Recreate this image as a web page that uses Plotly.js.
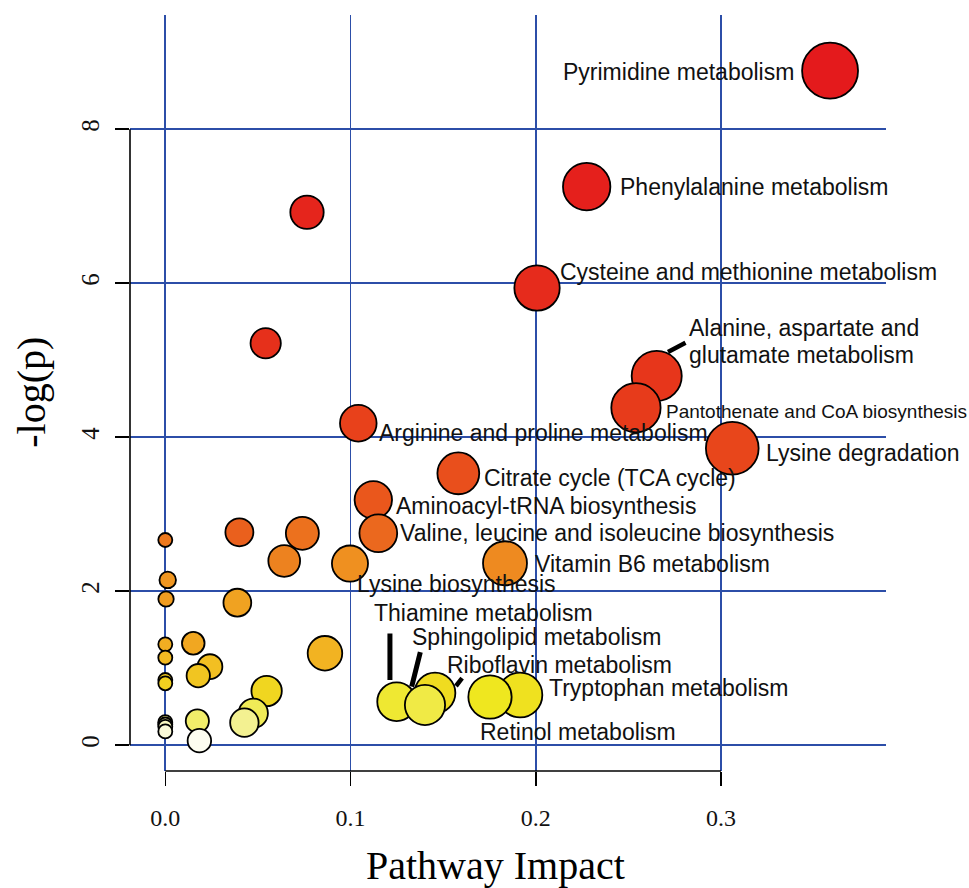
<!DOCTYPE html>
<html><head><meta charset="utf-8">
<script src="https://cdn.plot.ly/plotly-3.0.1.min.js"></script>
<style>html,body{margin:0;padding:0;background:#fff}#chart{width:969px;height:888px}</style>
</head><body><div id="chart"></div>
<script>
// ---- data ----
const pathways = [
  'Pyrimidine metabolism', 'Phenylalanine metabolism', '', 'Cysteine and methionine metabolism', '',
  'Alanine, aspartate and<br>glutamate metabolism', 'Pantothenate and CoA biosynthesis',
  'Arginine and proline metabolism', 'Lysine degradation', 'Citrate cycle (TCA cycle)',
  'Aminoacyl-tRNA biosynthesis', '', 'Valine, leucine and isoleucine biosynthesis', '', '', '',
  'Vitamin B6 metabolism', 'Lysine biosynthesis', '', '', '', '', '', '', '', '', '', '', '', '',
  'Riboflavin metabolism', 'Tryptophan metabolism', 'Retinol metabolism', 'Thiamine metabolism',
  'Sphingolipid metabolism', '', '', '', '', '', '', '', ''
];
const impact = [
  0.3589, 0.2275, 0.0765, 0.2007, 0.0542,
  0.2653, 0.2541,
  0.1042, 0.3061, 0.1582,
  0.1123, 0.0400, 0.1150, 0.0740, 0.0000, 0.0642,
  0.1834, 0.0997, 0.0013, 0.0004, 0.0389, 0.0151, 0.0000, 0.0862, 0.0000, 0.0241, 0.0178, 0.0000, 0.0000, 0.0547,
  0.1456, 0.1915, 0.1753, 0.1249,
  0.1402, 0.0475, 0.0173, 0.0000, 0.0427, 0.0000, 0.0000, 0.0000, 0.0184
];
const negLogP = [
  8.761, 7.255, 6.922, 5.939, 5.221,
  4.796, 4.384,
  4.182, 3.857, 3.532,
  3.186, 2.766, 2.753, 2.753, 2.666, 2.394,
  2.364, 2.360, 2.147, 1.900, 1.852, 1.325, 1.311, 1.195, 1.138, 1.021, 0.904, 0.848, 0.805, 0.705,
  0.679, 0.653, 0.627, 0.566,
  0.523, 0.416, 0.316, 0.300, 0.294, 0.270, 0.240, 0.180, 0.060
];
const xTicks = [0, 0.1, 0.2, 0.3];
const xTickLabels = ['0.0', '0.1', '0.2', '0.3'];
const yTicks = [0, 2, 4, 6, 8];
const yTickLabels = ['0', '2', '4', '6', '8'];
const xTitle = 'Pathway Impact';
const yTitle = '-log(p)';

// ---- styling / layout config ----
const X_RANGE = [-0.01906, 0.3891];
const Y_RANGE = [-0.334, 9.484];
const GRID = '#2C4EA8';
const SANS = 'Liberation Sans, Arial, sans-serif';
const SERIF = 'Liberation Serif, Times New Roman, serif';

// label placement: pixel offsets from the point centre (dx right, dy down)
const labelPos = {
  'Pyrimidine metabolism': {anchor: 'right', dx: -34, dy: 1},
  'Phenylalanine metabolism': {anchor: 'left', dx: 31.6, dy: 0},
  'Cysteine and methionine metabolism': {anchor: 'left', dx: 21.3, dy: -16.3},
  'Alanine, aspartate and<br>glutamate metabolism': {anchor: 'left', dx: 30, dy: -47.7, lineGap: 26.7},
  'Pantothenate and CoA biosynthesis': {anchor: 'left', dx: 28.3, dy: 4, size: 19},
  'Lysine degradation': {anchor: 'left', dx: 32, dy: 5},
  'Arginine and proline metabolism': {anchor: 'left', dx: 18.4, dy: 9.7},
  'Citrate cycle (TCA cycle)': {anchor: 'left', dx: 23.4, dy: 4.4},
  'Aminoacyl-tRNA biosynthesis': {anchor: 'left', dx: 20.7, dy: 6},
  'Valine, leucine and isoleucine biosynthesis': {anchor: 'left', dx: 20, dy: 0},
  'Vitamin B6 metabolism': {anchor: 'left', dx: 28.3, dy: 1},
  'Lysine biosynthesis': {anchor: 'left', dx: 5, dy: 20},
  'Thiamine metabolism': {anchor: 'left', dx: -25, dy: -88.7},
  'Sphingolipid metabolism': {anchor: 'left', dx: -15, dy: -68},
  'Riboflavin metabolism': {anchor: 'left', dx: 10, dy: -28},
  'Tryptophan metabolism': {anchor: 'left', dx: 26.7, dy: -7},
  'Retinol metabolism': {anchor: 'left', dx: -12.3, dy: 34.7}
};
// leader segments: head offset from point centre (hx, hy) and tail relative to head (tx, ty), screen px
const leaders = {
  'Alanine, aspartate and<br>glutamate metabolism': {hx: 11.3, hy: -24, tx: 19, ty: -10, w: 4.5},
  'Thiamine metabolism': {hx: -6.7, hy: -21.7, tx: 0, ty: -48, w: 5},
  'Sphingolipid metabolism': {hx: -13.3, hy: -18.3, tx: 9, ty: -36, w: 5},
  'Riboflavin metabolism': {hx: 21, hy: -7, tx: 7.3, ty: -9.3, w: 4.5}
};

// colour by rank of -log(p) (heat colours), size by impact
const order = negLogP.map((v, i) => i).sort((a, b) => negLogP[b] - negLogP[a]);
const rank = new Array(negLogP.length);
order.forEach((idx, r) => { rank[idx] = r; });
const sizeOf = v => 14 + 70 * Math.sqrt(v);

const heatScale = [
  [0.0, '#E41A1C'],
  [0.19, '#E8461B'],
  [0.381, '#EE8A20'],
  [0.571, '#F2B922'],
  [0.762, '#EFE71F'],
  [0.786, '#EFE832'],
  [0.90, '#F2F08C'],
  [1.0, '#FDFDF0']
];

const trace = {
  type: 'scatter',
  mode: 'markers',
  x: order.map(i => impact[i]),
  y: order.map(i => negLogP[i]),
  text: order.map(i => pathways[i]),
  hoverinfo: 'x+y+text',
  cliponaxis: false,
  marker: {
    size: order.map(i => sizeOf(impact[i])),
    sizemode: 'diameter',
    color: order.map(i => rank[i]),
    cmin: 0,
    cmax: negLogP.length - 1,
    colorscale: heatScale,
    showscale: false,
    opacity: 1,
    line: {color: '#000000', width: 1.8}
  }
};

const annotations = [];
pathways.forEach((name, i) => {
  if (!name) return;
  const p = labelPos[name];
  const lines = name.split('<br>');
  lines.forEach((ln, k) => {
    annotations.push({
      x: impact[i], y: negLogP[i], xref: 'x', yref: 'y',
      text: ln, showarrow: false,
      xanchor: p.anchor, yanchor: 'middle',
      xshift: p.dx, yshift: -(p.dy + k * (p.lineGap || 0)),
      font: {family: SANS, size: p.size || 23, color: '#111111'}
    });
  });
  const L = leaders[name];
  if (L) {
    annotations.push({
      x: impact[i], y: negLogP[i], xref: 'x', yref: 'y',
      text: '', showarrow: true, arrowhead: 0, arrowwidth: L.w, arrowcolor: '#000000',
      ax: L.tx, ay: L.ty, axref: 'pixel', ayref: 'pixel',
      xshift: L.hx, yshift: -L.hy, standoff: 0, startstandoff: 0
    });
  }
});

// axis titles
annotations.push({
  xref: 'paper', yref: 'paper', x: 0.4835, y: -0.1255, xanchor: 'center', yanchor: 'middle',
  text: xTitle, showarrow: false, font: {family: SERIF, size: 40, color: '#000'}
});
annotations.push({
  xref: 'paper', yref: 'paper', x: -0.1306, y: 0.5007, xanchor: 'center', yanchor: 'middle',
  text: yTitle, textangle: -90, showarrow: false, font: {family: SERIF, size: 40, color: '#000'}
});

// partial axis lines (R style: from first to last tick)
const fx = v => (v - X_RANGE[0]) / (X_RANGE[1] - X_RANGE[0]);
const fy = v => (v - Y_RANGE[0]) / (Y_RANGE[1] - Y_RANGE[0]);
const shapes = [
  {type: 'line', xref: 'paper', yref: 'paper', x0: fx(xTicks[0]), x1: fx(xTicks[xTicks.length - 1]), y0: 0, y1: 0,
   line: {color: '#000', width: 1.6}, layer: 'above'},
  {type: 'line', xref: 'paper', yref: 'paper', x0: 0, x1: 0, y0: fy(yTicks[0]), y1: fy(yTicks[yTicks.length - 1]),
   line: {color: '#000', width: 1.6}, layer: 'above'}
];

const layout = {
  width: 969, height: 888,
  margin: {l: 130, r: 83, t: 15, b: 117, pad: 0},
  paper_bgcolor: '#ffffff', plot_bgcolor: '#ffffff',
  showlegend: false,
  xaxis: {
    range: X_RANGE, tickmode: 'array', tickvals: xTicks, ticktext: xTickLabels,
    ticks: 'outside', ticklen: 14, tickwidth: 1.6, tickcolor: '#000', ticklabelstandoff: 11,
    showgrid: true, gridcolor: GRID, gridwidth: 1.7, zeroline: false, showline: false,
    tickfont: {family: SERIF, size: 24, color: '#111'}, automargin: false
  },
  yaxis: {
    range: Y_RANGE, tickmode: 'array', tickvals: yTicks, ticktext: yTickLabels,
    ticks: 'outside', ticklen: 14, tickwidth: 1.6, tickcolor: '#000', tickangle: -90, ticklabelstandoff: 6,
    showgrid: true, gridcolor: GRID, gridwidth: 1.7, zeroline: false, showline: false,
    tickfont: {family: SERIF, size: 25, color: '#111'}, automargin: false
  },
  annotations: annotations,
  shapes: shapes
};

Plotly.newPlot('chart', [trace], layout, {displayModeBar: false, staticPlot: true});
</script>
</body></html>
